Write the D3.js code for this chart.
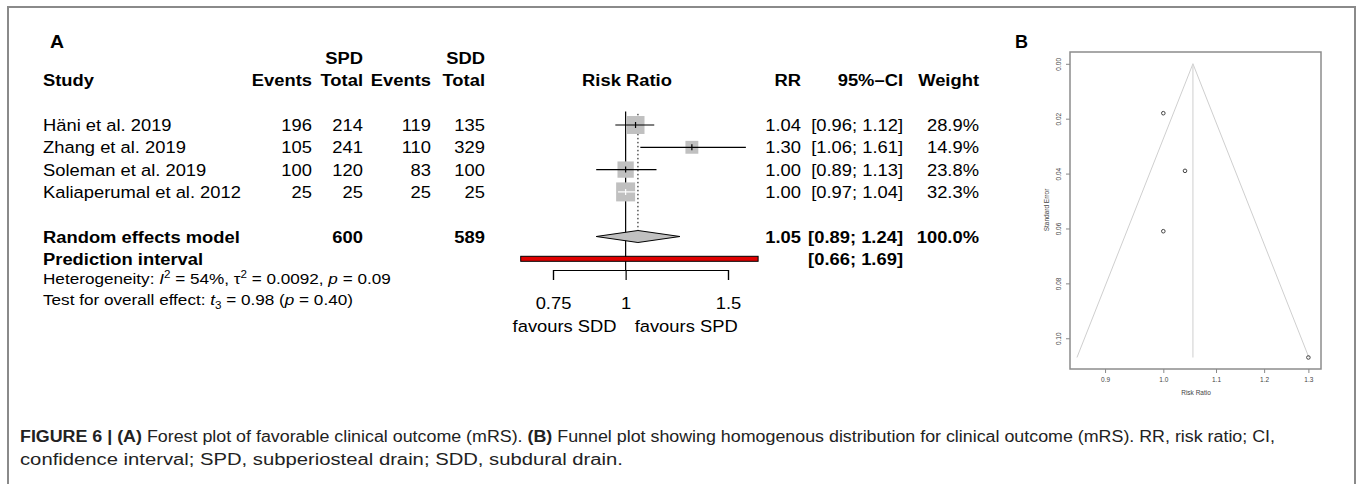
<!DOCTYPE html>
<html lang="en">
<head>
<meta charset="utf-8">
<script src="https://cdn.jsdelivr.net/npm/d3@7"></script>
<style>
  body { margin: 0; background: #fff; }
  svg { display: block; font-family: "Liberation Sans", Arial, Helvetica, sans-serif; }
</style>
</head>
<body>
<div id="figure"></div>
<script>
// panel A - forest plot values
const studies = ["Häni et al. 2019", "Zhang et al. 2019", "Soleman et al. 2019", "Kaliaperumal et al. 2012"];
const spdEvents = [196, 105, 100, 25];
const spdTotal = [214, 241, 120, 25];
const sddEvents = [119, 110, 83, 25];
const sddTotal = [135, 329, 100, 25];
const rr = [1.04, 1.30, 1.00, 1.00];
const ciLow = [0.96, 1.06, 0.89, 0.97];
const ciHigh = [1.12, 1.61, 1.13, 1.04];
const weight = [28.9, 14.9, 23.8, 32.3];
const pooled = [1.05, 0.89, 1.24];        // RR, lower, upper
const pooledTotals = [600, 589];          // SPD, SDD
const predInterval = [0.66, 1.69];
const forestTicks = [0.75, 1, 1.5];

// panel B - funnel plot values (standard errors)
const funnelSE = [0.039, 0.107, 0.061, 0.018];
const funnelCentre = 1.055;
const funnelXTicks = [0.9, 1.0, 1.1, 1.2, 1.3];
const funnelYTicks = [0, 0.02, 0.04, 0.06, 0.08, 0.10];

const SX = 1.08; // the figure text is slightly stretched horizontally

const svg = d3.select("#figure")
    .append("svg")
    .attr("width", 1360)
    .attr("height", 484);

// outer frame
svg.append("rect")
    .attr("x", 8).attr("y", 7)
    .attr("width", 1347).attr("height", 600)
    .attr("fill", "none")
    .attr("stroke", "#8a8a8a")
    .attr("stroke-width", 2);

function label(g, x, y, str, opt = {}) {
    return g.append("text")
        .attr("transform", `translate(${x},${y}) scale(${opt.sx || SX},1)`)
        .attr("text-anchor", opt.anchor || "start")
        .attr("font-weight", opt.weight || "normal")
        .attr("font-size", opt.size || 17)
        .attr("fill", opt.fill || "#000")
        .text(str);
}

// ---------------- Forest plot ----------------
const forest = svg.append("g");
const yRow = d3.scaleLinear().domain([0, 1]).range([125, 147.3]);
const x = d3.scaleLog().domain([0.75, 1.5]).range([553, 728]);
const off = 6; // baseline below row centre

const col = { study: 43, spdE: 312, spdT: 363, sddE: 431, sddT: 485, rr: 801, ci: 903, w: 979 };
const B = { weight: "bold" };
const BE = { weight: "bold", anchor: "end" };
const E = { anchor: "end" };

label(forest, 50, yRow(-3.75) + 6.5, "A", { weight: "bold", size: 18 });
label(forest, col.spdT, yRow(-3) + off, "SPD", BE);
label(forest, col.sddT, yRow(-3) + off, "SDD", BE);

const yh = yRow(-2) + off;
label(forest, col.study, yh, "Study", B);
label(forest, col.spdE, yh, "Events", BE);
label(forest, col.spdT, yh, "Total", BE);
label(forest, col.sddE, yh, "Events", BE);
label(forest, col.sddT, yh, "Total", BE);
label(forest, 627, yh, "Risk Ratio", { weight: "bold", anchor: "middle" });
label(forest, col.rr, yh, "RR", BE);
label(forest, col.ci, yh, "95%\u2013CI", BE);
label(forest, col.w, yh, "Weight", BE);

const fmtCI = (a, b) => `[${a.toFixed(2)}; ${b.toFixed(2)}]`;

studies.forEach((s, i) => {
    const y = yRow(i) + off;
    label(forest, col.study, y, s);
    label(forest, col.spdE, y, spdEvents[i], E);
    label(forest, col.spdT, y, spdTotal[i], E);
    label(forest, col.sddE, y, sddEvents[i], E);
    label(forest, col.sddT, y, sddTotal[i], E);
    label(forest, col.rr, y, rr[i].toFixed(2), E);
    label(forest, col.ci, y, fmtCI(ciLow[i], ciHigh[i]), E);
    label(forest, col.w, y, weight[i].toFixed(1) + "%", E);
});

const yre = yRow(5) + off;
label(forest, col.study, yre, "Random effects model", B);
label(forest, col.spdT, yre, pooledTotals[0], BE);
label(forest, col.sddT, yre, pooledTotals[1], BE);
label(forest, col.rr, yre, pooled[0].toFixed(2), BE);
label(forest, col.ci, yre, fmtCI(pooled[1], pooled[2]), BE);
label(forest, col.w, yre, "100.0%", BE);

const ypi = yRow(6) + off;
label(forest, col.study, ypi, "Prediction interval", B);
label(forest, col.ci, ypi, fmtCI(predInterval[0], predInterval[1]), BE);

// heterogeneity and overall effect lines
const small = { size: 15.5, sx: 1.106 };
const het = label(forest, col.study, 284, "", small);
het.append("tspan").text("Heterogeneity: ");
het.append("tspan").attr("font-style", "italic").text("I");
het.append("tspan").attr("dy", -6).attr("font-size", 10.5).text("2");
het.append("tspan").attr("dy", 6).text(" = 54%, \u03c4");
het.append("tspan").attr("dy", -6).attr("font-size", 10.5).text("2");
het.append("tspan").attr("dy", 6).text(" = 0.0092, ");
het.append("tspan").attr("font-style", "italic").text("p");
het.append("tspan").text(" = 0.09");

const tst = label(forest, col.study, 305, "", small);
tst.append("tspan").text("Test for overall effect: ");
tst.append("tspan").attr("font-style", "italic").text("t");
tst.append("tspan").attr("dy", 4).attr("font-size", 10.5).text("3");
tst.append("tspan").attr("dy", -4).text(" = 0.98 (");
tst.append("tspan").attr("font-style", "italic").text("p");
tst.append("tspan").text(" = 0.40)");

// null line and pooled estimate line
forest.append("line")
    .attr("x1", x(1)).attr("x2", x(1))
    .attr("y1", yRow(-0.6)).attr("y2", 270)
    .attr("stroke", "#000").attr("stroke-width", 1.2);

forest.append("line")
    .attr("x1", x(pooled[0])).attr("x2", x(pooled[0]))
    .attr("y1", yRow(-0.5)).attr("y2", yRow(5) - 6)
    .attr("stroke", "#000").attr("stroke-width", 1)
    .attr("stroke-dasharray", "1.5,2.5");

// study squares and CIs
studies.forEach((s, i) => {
    const yc = yRow(i);
    const side = 3.34 * Math.sqrt(weight[i]);
    const cx = x(rr[i]);
    forest.append("rect")
        .attr("x", cx - side / 2).attr("y", yc - side / 2)
        .attr("width", side).attr("height", side)
        .attr("fill", "#c0c0c0");
    const inside = x(ciLow[i]) >= cx - side / 2 - 1 && x(ciHigh[i]) <= cx + side / 2 + 1;
    const c = inside ? "#fff" : "#000";
    forest.append("line")
        .attr("x1", x(ciLow[i])).attr("x2", x(ciHigh[i]))
        .attr("y1", yc).attr("y2", yc)
        .attr("stroke", c).attr("stroke-width", 1.2);
    forest.append("line")
        .attr("x1", cx).attr("x2", cx)
        .attr("y1", yc - 3).attr("y2", yc + 3)
        .attr("stroke", c).attr("stroke-width", 1.2);
});

// pooled diamond
const yd = yRow(5);
forest.append("path")
    .attr("d", `M${x(pooled[1])},${yd}L${x(pooled[0])},${yd - 6}L${x(pooled[2])},${yd}L${x(pooled[0])},${yd + 6}Z`)
    .attr("fill", "#c0c0c0")
    .attr("stroke", "#000").attr("stroke-width", 1);

// prediction interval bar
forest.append("rect")
    .attr("x", x(predInterval[0])).attr("y", yRow(6) - 2.5)
    .attr("width", x(predInterval[1]) - x(predInterval[0])).attr("height", 5)
    .attr("fill", "#e00000")
    .attr("stroke", "#000").attr("stroke-width", 1);

// axis
const xAxis = forest.append("g")
    .attr("transform", "translate(0,270)")
    .call(d3.axisBottom(x).tickValues(forestTicks).tickFormat(d => String(d))
        .tickSize(10).tickSizeOuter(10).tickPadding(17));
xAxis.attr("font-family", null).attr("font-size", 17);
xAxis.selectAll("path, line").attr("stroke", "#000").attr("stroke-width", 1.2);
xAxis.selectAll("text").attr("fill", "#000").attr("transform", `scale(${SX},1)`);

label(forest, x(1) - 9, 332, "favours SDD", E);
label(forest, x(1) + 9, 332, "favours SPD");

// ---------------- Funnel plot ----------------
const funnel = svg.append("g");
const fx = d3.scaleLog().domain([0.8447, 1.330]).range([1070, 1321]);
const fy = d3.scaleLinear().domain([-0.0043, 0.1112]).range([52, 369]);

label(funnel, 1015, 48, "B", { weight: "bold", size: 18, sx: 1 });

const seMax = d3.max(funnelSE);
const lc = Math.log(funnelCentre);
const fl = Math.exp(lc - 1.96 * seMax), fr = Math.exp(lc + 1.96 * seMax);

funnel.append("path")
    .attr("d", `M${fx(fl)},${fy(seMax)}L${fx(funnelCentre)},${fy(0)}L${fx(fr)},${fy(seMax)}`)
    .attr("fill", "none")
    .attr("stroke", "#cfcfcf").attr("stroke-width", 1);
funnel.append("line")
    .attr("x1", fx(funnelCentre)).attr("x2", fx(funnelCentre))
    .attr("y1", fy(0)).attr("y2", fy(seMax))
    .attr("stroke", "#d6d6d6").attr("stroke-width", 1.2);

funnel.selectAll("circle")
    .data(rr)
    .join("circle")
    .attr("cx", d => fx(d))
    .attr("cy", (d, i) => fy(funnelSE[i]))
    .attr("r", 1.8)
    .attr("fill", "none")
    .attr("stroke", "#444").attr("stroke-width", 1);

funnel.append("rect")
    .attr("x", 1070).attr("y", 52)
    .attr("width", 251).attr("height", 317)
    .attr("fill", "none")
    .attr("stroke", "#8c8c8c").attr("stroke-width", 1.5);

const fxAxis = funnel.append("g")
    .attr("transform", "translate(0,369)")
    .call(d3.axisBottom(fx).tickValues(funnelXTicks).tickFormat(d3.format(".1f"))
        .tickSize(4).tickPadding(4));
fxAxis.select(".domain").remove();
fxAxis.attr("font-family", null).attr("font-size", 6.5);
fxAxis.selectAll("line").attr("stroke", "#888");
fxAxis.selectAll("text").attr("fill", "#444");

const fyAxis = funnel.append("g")
    .attr("transform", "translate(1070,0)")
    .call(d3.axisLeft(fy).tickValues(funnelYTicks).tickFormat(d3.format(".2f"))
        .tickSize(4));
fyAxis.select(".domain").remove();
fyAxis.attr("font-family", null).attr("font-size", 6.5);
fyAxis.selectAll("line").attr("stroke", "#888");
fyAxis.selectAll("text")
    .attr("x", null).attr("dy", null)
    .attr("fill", "#444")
    .attr("text-anchor", "middle")
    .attr("transform", "translate(-9,0) rotate(-90)");

funnel.append("text")
    .attr("x", 1196).attr("y", 395)
    .attr("text-anchor", "middle")
    .attr("font-size", 6.5).attr("fill", "#444")
    .text("Risk Ratio");
funnel.append("text")
    .attr("transform", "translate(1049,210) rotate(-90)")
    .attr("text-anchor", "middle")
    .attr("font-size", 6.5).attr("fill", "#444")
    .text("Standard Error");

// ---------------- Caption ----------------
const cap1 = svg.append("text")
    .attr("x", 20).attr("y", 442)
    .attr("font-size", 16).attr("fill", "#222")
    .attr("textLength", 1255).attr("lengthAdjust", "spacingAndGlyphs");
cap1.append("tspan").attr("font-weight", "bold").text("FIGURE 6 | (A)");
cap1.append("tspan").text(" Forest plot of favorable clinical outcome (mRS). ");
cap1.append("tspan").attr("font-weight", "bold").text("(B)");
cap1.append("tspan").text(" Funnel plot showing homogenous distribution for clinical outcome (mRS). RR, risk ratio; CI,");

svg.append("text")
    .attr("x", 20).attr("y", 465)
    .attr("font-size", 16).attr("fill", "#222")
    .attr("textLength", 603).attr("lengthAdjust", "spacingAndGlyphs")
    .text("confidence interval; SPD, subperiosteal drain; SDD, subdural drain.");
</script>
</body>
</html>
